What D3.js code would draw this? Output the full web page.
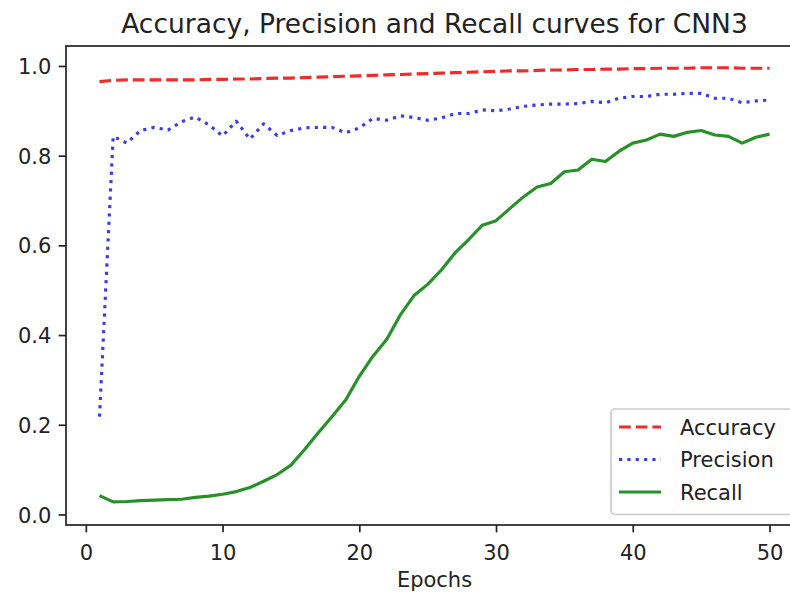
<!DOCTYPE html>
<html>
<head>
<meta charset="utf-8">
<script src="https://cdn.jsdelivr.net/npm/d3@7"></script>
<style>
  body { margin: 0; background: #fff; }
  svg { display: block; font-family: "DejaVu Sans", sans-serif; }
</style>
</head>
<body>
<svg id="chart" width="790" height="594"></svg>
<script>
let epochs = d3.range(1, 51);
let accuracy = [0.965, 0.968, 0.969, 0.969, 0.969, 0.969, 0.969, 0.969, 0.970, 0.970,
    0.971, 0.971, 0.972, 0.973, 0.973, 0.974, 0.975, 0.976, 0.977, 0.978,
    0.979, 0.980, 0.981, 0.982, 0.983, 0.984, 0.985, 0.986, 0.987, 0.988,
    0.989, 0.989, 0.990, 0.991, 0.991, 0.992, 0.992, 0.993, 0.993, 0.994,
    0.994, 0.995, 0.995, 0.995, 0.996, 0.996, 0.996, 0.995, 0.995, 0.995];
let precision = [0.218, 0.843, 0.828, 0.856, 0.863, 0.857, 0.876, 0.886, 0.869, 0.844,
    0.877, 0.837, 0.871, 0.845, 0.856, 0.862, 0.863, 0.863, 0.851, 0.862,
    0.883, 0.879, 0.889, 0.885, 0.879, 0.884, 0.894, 0.894, 0.902, 0.900,
    0.904, 0.910, 0.913, 0.915, 0.915, 0.916, 0.921, 0.918, 0.928, 0.932,
    0.932, 0.937, 0.937, 0.939, 0.939, 0.928, 0.928, 0.918, 0.922, 0.924];
let recall = [0.042, 0.028, 0.029, 0.031, 0.032, 0.033, 0.034, 0.038, 0.041, 0.045,
    0.051, 0.060, 0.074, 0.089, 0.110, 0.145, 0.182, 0.218, 0.255, 0.308,
    0.353, 0.390, 0.445, 0.488, 0.513, 0.545, 0.583, 0.613, 0.645, 0.655,
    0.682, 0.708, 0.730, 0.738, 0.764, 0.768, 0.792, 0.787, 0.810, 0.828,
    0.835, 0.848, 0.843, 0.852, 0.856, 0.846, 0.843, 0.828, 0.841, 0.848];
let seriesNames = ['Accuracy', 'Precision', 'Recall'];
let xTicks = [0, 10, 20, 30, 40, 50];
let yTicks = [0.0, 0.2, 0.4, 0.6, 0.8, 1.0];

let plotLeft = 66, plotRight = 803, plotTop = 46, plotBottom = 525;
let lw = 3.15;
let styles = [
    {color: '#f22a2a', dash: '11.7 5'},
    {color: '#3a3af0', dash: '3.15 5.2'},
    {color: '#269126', dash: null}
];

let svg = d3.select('#chart');

let x = d3.scaleLinear().domain([-1.45, 52.45]).range([plotLeft, plotRight]);
let y = d3.scaleLinear().domain([-0.0235, 1.0445]).range([plotBottom, plotTop]);

svg.append('clipPath').attr('id', 'plotClip')
    .append('rect')
    .attr('x', plotLeft).attr('y', plotTop)
    .attr('width', plotRight - plotLeft).attr('height', plotBottom - plotTop);

let line = d3.line()
    .x(function (d, i) { return x(epochs[i]); })
    .y(function (d) { return y(d); });

let allSeries = [accuracy, precision, recall];
let plot = svg.append('g').attr('clip-path', 'url(#plotClip)');
for (let i = 0; i < allSeries.length; i++) {
    plot.append('path')
        .datum(allSeries[i])
        .attr('d', line)
        .attr('fill', 'none')
        .attr('stroke', styles[i].color)
        .attr('stroke-width', lw)
        .attr('stroke-linejoin', 'round')
        .attr('stroke-dasharray', styles[i].dash);
}

// axes
let xAxis = svg.append('g')
    .attr('transform', 'translate(0,' + plotBottom + ')')
    .call(d3.axisBottom(x).tickValues(xTicks).tickSize(7.35).tickPadding(7.35).tickFormat(d3.format('d')));
let yAxis = svg.append('g')
    .attr('transform', 'translate(' + plotLeft + ',0)')
    .call(d3.axisLeft(y).tickValues(yTicks).tickSize(7.35).tickPadding(7.35).tickFormat(d3.format('.1f')));

[xAxis, yAxis].forEach(function (a) {
    a.select('.domain').remove();
    a.selectAll('.tick line').attr('stroke', '#222').attr('stroke-width', 1.7);
    a.selectAll('.tick text').attr('fill', '#222').attr('font-size', '21px')
        .attr('font-family', '"DejaVu Sans", sans-serif');
});
xAxis.selectAll('.tick text').attr('dy', null).attr('y', 35);
yAxis.selectAll('.tick text').attr('dy', '0.36em');

// frame
svg.append('rect')
    .attr('x', plotLeft).attr('y', plotTop)
    .attr('width', plotRight - plotLeft).attr('height', plotBottom - plotTop)
    .attr('fill', 'none').attr('stroke', '#222').attr('stroke-width', 1.7);

// title and label
svg.append('text')
    .attr('x', (plotLeft + plotRight) / 2).attr('y', 33)
    .attr('text-anchor', 'middle').attr('font-size', '26.5px').attr('fill', '#222')
    .text('Accuracy, Precision and Recall curves for CNN3');
svg.append('text')
    .attr('x', (plotLeft + plotRight) / 2).attr('y', 587)
    .attr('text-anchor', 'middle').attr('font-size', '21px').attr('fill', '#222')
    .text('Epochs');

// legend
let legend = svg.append('g');
legend.append('rect')
    .attr('x', 611).attr('y', 409)
    .attr('width', 181.5).attr('height', 105.5)
    .attr('rx', 4.2)
    .attr('fill', 'rgba(255,255,255,0.8)')
    .attr('stroke', '#cccccc').attr('stroke-width', 1.7);
let rowY = [427, 459.5, 492];
for (let i = 0; i < seriesNames.length; i++) {
    legend.append('line')
        .attr('x1', 619).attr('x2', 661)
        .attr('y1', rowY[i]).attr('y2', rowY[i])
        .attr('stroke', styles[i].color)
        .attr('stroke-width', lw)
        .attr('stroke-dasharray', styles[i].dash);
    legend.append('text')
        .attr('x', 680).attr('y', rowY[i])
        .attr('dy', '0.36em')
        .attr('font-size', '21px').attr('fill', '#222')
        .text(seriesNames[i]);
}
</script>
</body>
</html>
